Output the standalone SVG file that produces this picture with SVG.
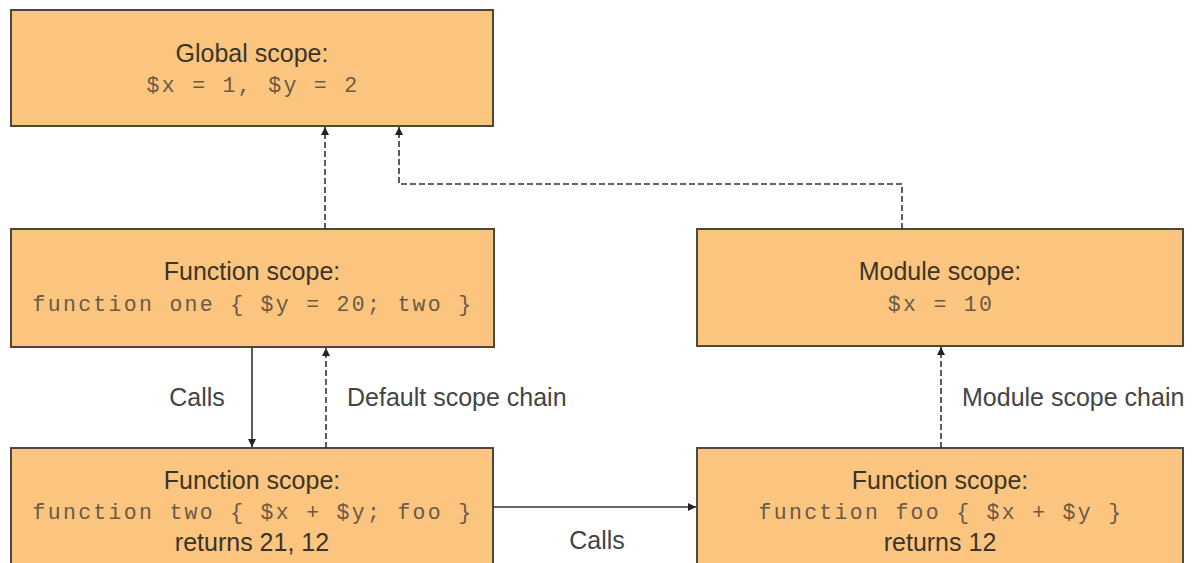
<svg xmlns="http://www.w3.org/2000/svg" width="1193" height="563" viewBox="0 0 1193 563">
<style>
.box{fill:#fbc580;stroke:#4f463c;stroke-width:2}
.title{font-family:"Liberation Sans",Arial,sans-serif;font-size:25px;fill:#3d342a;text-anchor:middle}
.code{font-family:"Liberation Mono","DejaVu Sans Mono",monospace;font-size:21.5px;letter-spacing:2.3px;fill:#6a5a44;text-anchor:middle}
.lbl{font-family:"Liberation Sans",Arial,sans-serif;font-size:25px;fill:#444}
.solid{fill:none;stroke:#333;stroke-width:1.6}
.dash{fill:none;stroke:#333;stroke-width:1.6;stroke-dasharray:6 3}
</style>
<defs>
<marker id="ah" viewBox="0 0 10 10" refX="10" refY="5" markerWidth="9" markerHeight="8" markerUnits="userSpaceOnUse" orient="auto">
<path d="M0,0 L10,5 L0,10 z" fill="#222"/>
</marker>
</defs>
<rect width="1193" height="563" fill="#fff"/>
<g id="global">
<rect class="box" x="11" y="10" width="482" height="116"/>
<text class="title" x="252" y="62">Global scope:</text>
<text class="code" x="253" y="92">$x = 1, $y = 2</text>
</g>
<g id="fone">
<rect class="box" x="11" y="229" width="483" height="118"/>
<text class="title" x="252" y="280">Function scope:</text>
<text class="code" x="253" y="311">function one { $y = 20; two }</text>
</g>
<g id="ftwo">
<rect class="box" x="11" y="448" width="482" height="125"/>
<text class="title" x="252" y="489">Function scope:</text>
<text class="code" x="253" y="519">function two { $x + $y; foo }</text>
<text class="title" x="252" y="551">returns 21, 12</text>
</g>
<g id="module">
<rect class="box" x="697" y="229" width="486" height="117"/>
<text class="title" x="940" y="280">Module scope:</text>
<text class="code" x="941" y="311">$x = 10</text>
</g>
<g id="foo">
<rect class="box" x="697" y="448" width="486" height="125"/>
<text class="title" x="940" y="489">Function scope:</text>
<text class="code" x="941" y="519">function foo { $x + $y }</text>
<text class="title" x="940" y="551">returns 12</text>
</g>
<g id="connectors">
<path class="solid" d="M252,347 L252,447" marker-end="url(#ah)"/>
<path class="dash" d="M326,448 L326,348" marker-end="url(#ah)"/>
<path class="dash" d="M325,229 L325,127" marker-end="url(#ah)"/>
<path class="dash" d="M902,229 L902,184 L399,184 L399,127" marker-end="url(#ah)"/>
<path class="dash" d="M941,448 L941,347" marker-end="url(#ah)"/>
<path class="solid" d="M493,507 L696,507" marker-end="url(#ah)"/>
</g>
<g id="labels">
<text class="lbl" x="197" y="406" text-anchor="middle">Calls</text>
<text class="lbl" x="347" y="406">Default scope chain</text>
<text class="lbl" x="962" y="406">Module scope chain</text>
<text class="lbl" x="597" y="549" text-anchor="middle">Calls</text>
</g>
</svg>
